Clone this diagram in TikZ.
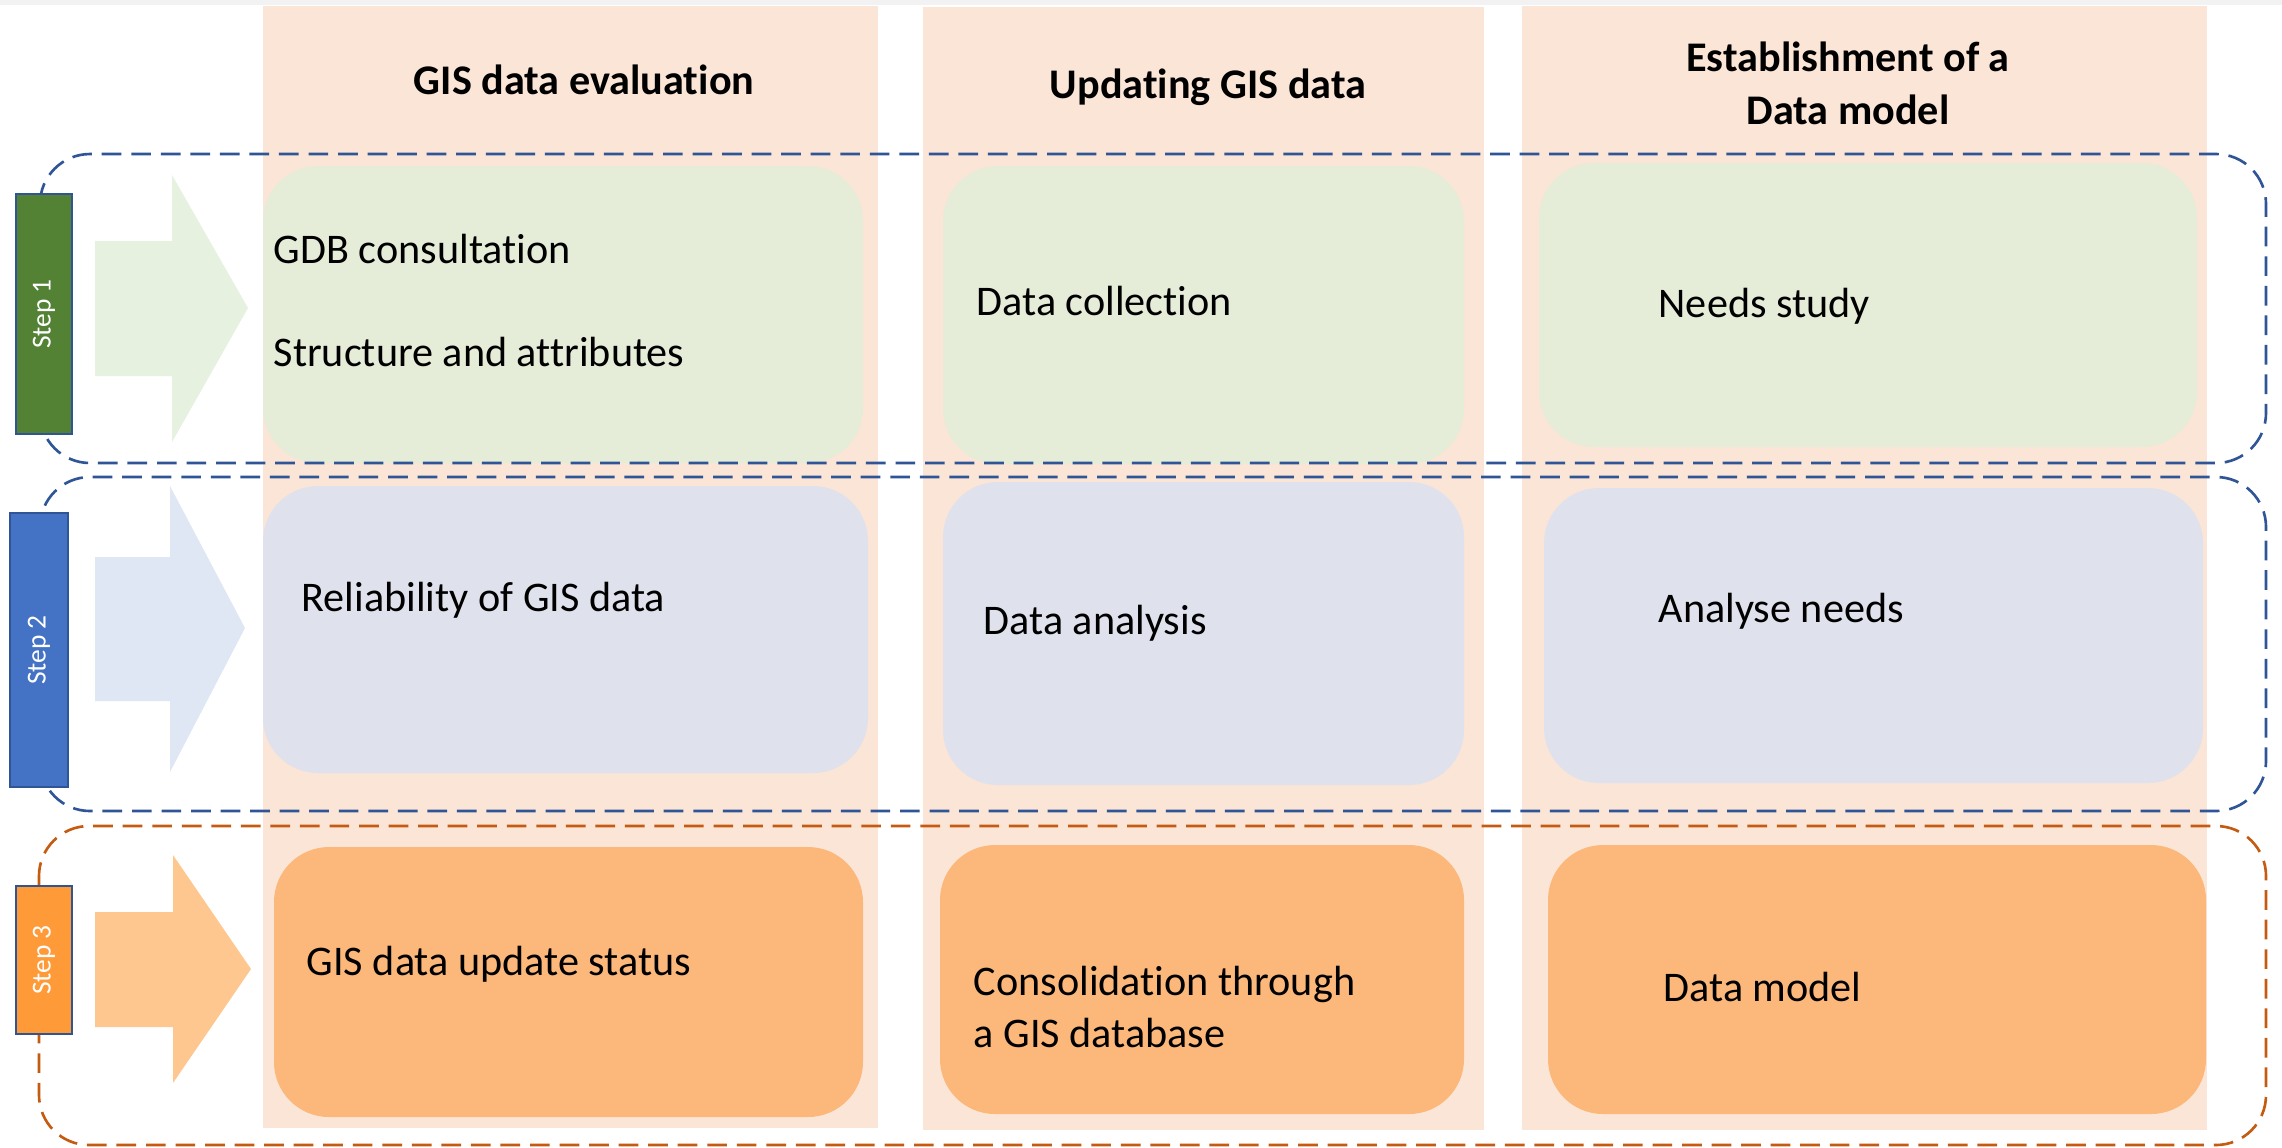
\documentclass[tikz,border=0pt]{standalone}
\usepackage{fontspec}
\setmainfont{Carlito}[Ligatures=CommonOff]

\definecolor{topgray}{HTML}{F2F2F2}
\definecolor{colpeach}{HTML}{FBE5D6}
\definecolor{rowgreen}{HTML}{E5ECD8}
\definecolor{rowblue}{HTML}{DFE2EC}
\definecolor{roworange}{HTML}{FBB87A}
\definecolor{arrgreen}{HTML}{E6F1DF}
\definecolor{arrblue}{HTML}{E0E7F4}
\definecolor{arrorange}{HTML}{FEC78F}
\definecolor{stepgreen}{HTML}{548235}
\definecolor{stepblue}{HTML}{4472C4}
\definecolor{steporange}{HTML}{FF9A38}
\definecolor{stepedge}{HTML}{2F5597}
\definecolor{dashblue}{HTML}{2F5597}
\definecolor{dashorange}{HTML}{C55A11}

\begin{document}
\begin{tikzpicture}[x=0.01cm,y=-0.01cm,
  card/.style={rounded corners=0.55cm},
  grp/.style={line width=0.75pt, dash pattern=on 5.6pt off 2.8pt, rounded corners=0.5cm},
  stepbox/.style={draw=stepedge, line width=0.6pt, text=white, rotate=90,
    font=\fontsize{7.8}{9}\selectfont, inner sep=0pt},
  body/.style={anchor=base west, font=\fontsize{12}{15}\selectfont, inner sep=0pt},
  title/.style={anchor=base, font=\bfseries\fontsize{12}{15}\selectfont, inner sep=0pt}]

% canvas
\fill[white] (0,0) rectangle (2282,1147);
\fill[topgray] (0,0) rectangle (2282,5);
\useasboundingbox (0,0) rectangle (2282,1147);

% column backgrounds
\fill[colpeach] (263,6) rectangle (878,1128);
\fill[colpeach] (923,7) rectangle (1484,1130);
\fill[colpeach] (1522,6) rectangle (2207,1130);

% column titles
\node[title] (t1) at (584,94) {GIS data evaluation};
\node[title] (t2) at (1208,98) {Updating GIS data};
\node[title] (t3a) at (1848,71) {Establishment of a};
\node[title] (t3b) at (1848,124) {Data model};

% row 1 cards
\fill[card, rowgreen] (263,166) rectangle (863,463);
\fill[card, rowgreen] (943,166) rectangle (1464,464);
\fill[card, rowgreen] (1539,163) rectangle (2197,447);
% row 2 cards
\fill[card, rowblue] (263,486) rectangle (868,773);
\fill[card, rowblue] (943,482) rectangle (1464,785);
\fill[card, rowblue] (1544,488) rectangle (2203,783);
% row 3 cards
\fill[card, roworange] (274,847) rectangle (863,1117);
\fill[card, roworange] (940,845) rectangle (1464,1114);
\fill[card, roworange] (1548,845) rectangle (2206,1114);

% card texts
\node[body] (gdb) at (273,263) {GDB consultation};
\node[body] (struct) at (273,366) {Structure and attributes};
\node[body] (collect) at (976,315) {Data collection};
\node[body] (needs) at (1658,317) {Needs study};
\node[body] (reliab) at (301,611) {Reliability of GIS data};
\node[body] (analysis) at (983,634) {Data analysis};
\node[body] (analyse) at (1658,622) {Analyse needs};
\node[body] (status) at (306,975) {GIS data update status};
\node[body] (consol) at (973,995) {Consolidation through};
\node[body] (consolb) at (973,1047) {a GIS database};
\node[body] (model) at (1663,1001) {Data model};

% block arrows
\fill[arrgreen] (95,241) -- (172,241) -- (172,175) -- (248,308) -- (172,442) -- (172,376) -- (95,376) -- cycle;
\fill[arrblue] (95,557) -- (170,557) -- (170,486) -- (245,628) -- (170,772) -- (170,701) -- (95,701) -- cycle;
\fill[arrorange] (95,912) -- (173,912) -- (173,855) -- (251,969) -- (173,1083) -- (173,1027) -- (95,1027) -- cycle;

% dashed step groups
\draw[grp, draw=dashblue] (40,154) rectangle (2266,463);
\draw[grp, draw=dashblue] (40,477) rectangle (2266,811);
\draw[grp, draw=dashorange] (39,826) rectangle (2266,1145);

% step tabs
\node[stepbox, fill=stepgreen, minimum width=2.40cm, minimum height=0.56cm] (s1) at (44,314) {Step 1};
\node[stepbox, fill=stepblue, minimum width=2.73cm, minimum height=0.58cm] (s2) at (39,650) {Step 2};
\node[stepbox, fill=steporange, minimum width=1.48cm, minimum height=0.56cm] (s3) at (44,960) {Step 3};

\end{tikzpicture}
\end{document}
